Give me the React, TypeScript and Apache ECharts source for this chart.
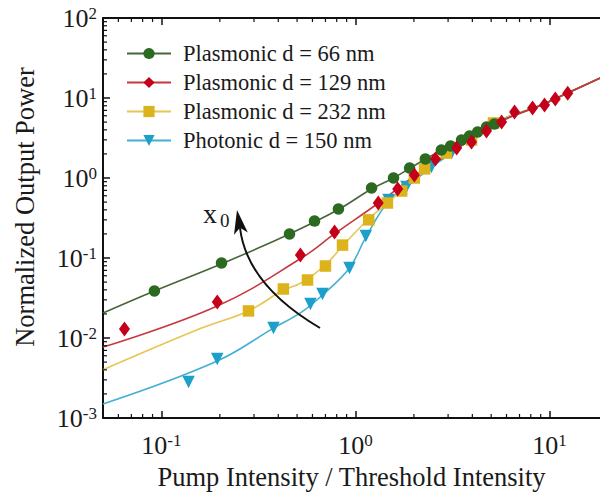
import React, { useEffect, useRef } from "react";
import * as echarts from "echarts";

const FONT = "'Liberation Serif', 'Times New Roman', serif";
const TEXT = "#1a1a1a";

const X_MIN = 0.05;
const X_MAX = 20;
const Y_MIN = 0.001;
const Y_MAX = 100;

const SERIES_NAMES = [
  "Plasmonic d = 66 nm",
  "Plasmonic d = 129 nm",
  "Plasmonic d = 232 nm",
  "Photonic d = 150 nm",
];

// measured points
const pts66 = [
  [0.092, 0.0387], [0.204, 0.0866], [0.457, 0.2], [0.615, 0.29], [0.817, 0.41],
  [1.21, 0.75], [1.57, 1.0], [1.9, 1.33], [2.29, 1.73], [2.77, 2.24], [3.09, 2.51],
  [3.52, 2.99], [3.87, 3.35], [4.26, 3.76], [4.73, 4.34], [5.2, 4.73],
];
const pts129 = [
  [0.0645, 0.01296], [0.194, 0.0282], [0.52, 0.109], [0.78, 0.211], [1.31, 0.487],
  [1.65, 0.729], [2.01, 1.09], [2.58, 1.73], [3.32, 2.37], [3.96, 2.82], [4.73, 3.87],
  [5.66, 5.01], [6.6, 6.68], [8.17, 7.5], [9.42, 8.18], [10.7, 9.71], [12.4, 11.5],
];
const pts232 = [
  [0.281, 0.0218], [0.425, 0.041], [0.566, 0.0531], [0.7, 0.0794], [0.857, 0.145],
  [1.17, 0.3], [1.46, 0.487], [1.73, 0.688], [2.01, 1.0], [2.27, 1.3], [2.94, 2.05],
  [3.96, 2.99], [5.14, 4.87],
];
const pts150 = [
  [0.138, 0.00282], [0.194, 0.00546], [0.378, 0.0133], [0.586, 0.0266], [0.676, 0.0355],
  [0.931, 0.075], [1.13, 0.188], [1.48, 0.53], [1.83, 0.77], [2.46, 1.37], [3.13, 2.05],
];

// fitted curves
const fit66 = [
  [0.05, 0.0205], [0.092, 0.0387], [0.209, 0.0866], [0.457, 0.2], [0.808, 0.398],
  [1.209, 0.729], [1.57, 1.0], [2.296, 1.73], [3.126, 2.59], [5.2, 4.8],
  [9.09, 8.18], [12.38, 11.55], [20, 19.7],
];
const fit129 = [
  [0.05, 0.0077], [0.194, 0.0251], [0.527, 0.1], [0.779, 0.2], [1.314, 0.487],
  [2.014, 1.06], [3.317, 2.3], [5.656, 5.16], [9.09, 8.18], [12.38, 11.55], [20, 19.7],
];
const fit232 = [
  [0.05, 0.004], [0.161, 0.0133], [0.281, 0.0218], [0.425, 0.0398], [0.527, 0.049],
  [0.7, 0.0818], [0.857, 0.141], [1.167, 0.307], [1.462, 0.487], [2.014, 1.0],
  [2.944, 2.05], [5.145, 4.87], [9.09, 8.18], [12.38, 11.55], [20, 19.7],
];
const fit150 = [
  [0.05, 0.0015], [0.194, 0.00516], [0.378, 0.0133], [0.527, 0.0211], [0.676, 0.0345],
  [0.931, 0.075], [1.126, 0.178], [1.479, 0.516], [1.832, 0.772], [2.465, 1.37],
  [3.126, 2.05], [5.145, 4.87], [9.09, 8.18], [12.38, 11.55], [20, 19.7],
];

const MARKER_COLORS = ["#2b6a20", "#c5001b", "#ddb31c", "#1c9fc8"];
const LINE_COLORS = ["#46663a", "#c8373d", "#e6c553", "#41b0d3"];
const SYMBOLS = ["circle", "diamond", "rect", "triangle"];
const SYMBOL_SIZES: any[] = [11.5, [11, 15], 11.5, 12.5];
const SYMBOL_ROTATE = [0, 0, 0, 180];

const MULTS = [2, 3, 4, 5, 6, 7, 8, 9];
const X_DECADES = [0.01, 0.1, 1, 10];
const Y_DECADES = [0.001, 0.01, 0.1, 1, 10];

const fmtPow = (v: number) => {
  const e = Math.log10(v);
  const r = Math.round(e);
  if (Math.abs(e - r) > 1e-6) return "";
  return `{b|10}{s|${r}}`;
};

const rich = {
  b: { fontSize: 26, fontFamily: FONT, color: TEXT, lineHeight: 26, verticalAlign: "bottom" },
  s: { fontSize: 17, fontFamily: FONT, color: TEXT, lineHeight: 13, verticalAlign: "top" },
};

export default function App() {
  const ref = useRef<HTMLDivElement>(null);
  useEffect(() => {
    if (!ref.current) return;
    const chart = echarts.init(ref.current, null, { renderer: "svg" });

    const xMinor: number[][] = [];
    X_DECADES.forEach((d) => MULTS.forEach((m) => {
      const v = d * m;
      if (v > X_MIN + 1e-9 && v < X_MAX - 1e-9) xMinor.push([v, Y_MIN]);
    }));
    const yMinor: number[][] = [];
    Y_DECADES.forEach((d) => MULTS.forEach((m) => {
      const v = d * m;
      if (v > Y_MIN && v < Y_MAX) yMinor.push([X_MIN, v]);
    }));

    const tickStyle = { stroke: "#111", lineWidth: 1.2 };

    const pts = [pts66, pts129, pts232, pts150];
    const fits = [fit66, fit129, fit232, fit150];
    const order = [3, 2, 0, 1];

    const lineSeries = order.map((i) => ({
      type: "line",
      name: SERIES_NAMES[i],
      data: fits[i],
      smooth: 0.4,
      showSymbol: false,
      symbol: SYMBOLS[i],
      symbolSize: SYMBOL_SIZES[i],
      symbolRotate: SYMBOL_ROTATE[i],
      lineStyle: { color: LINE_COLORS[i], width: 1.6 },
      itemStyle: { color: MARKER_COLORS[i] },
      z: 2,
      silent: true,
    }));
    const scatterSeries = order.map((i) => ({
      type: "scatter",
      name: "pts" + i,
      data: pts[i],
      symbol: SYMBOLS[i],
      symbolSize: SYMBOL_SIZES[i],
      symbolRotate: SYMBOL_ROTATE[i],
      itemStyle: { color: MARKER_COLORS[i], opacity: 1 },
      z: 3,
      silent: true,
    }));

    chart.setOption({
      animation: false,
      backgroundColor: "#ffffff",
      grid: { left: 103, right: 2, top: 18, bottom: 80 },
      legend: {
        orient: "vertical",
        left: 126,
        top: 42,
        padding: 0,
        itemWidth: 44,
        itemHeight: 14,
        itemGap: 6,
        data: [...SERIES_NAMES],
        textStyle: { fontSize: 22.5, fontFamily: FONT, color: TEXT, lineHeight: 22, padding: [0, 0, 0, 7] },
        selectedMode: false,
      },
      xAxis: [
        {
          type: "log",
          logBase: 10,
          min: X_MIN,
          max: X_MAX,
          position: "bottom",
          axisLine: { lineStyle: { color: "#111", width: 2 } },
          axisTick: { inside: true, length: 7, lineStyle: { color: "#111", width: 1.5 } },
          axisLabel: { margin: 14, formatter: fmtPow, rich, showMinLabel: false, showMaxLabel: false },
          splitLine: { show: false },
          name: "Pump Intensity / Threshold Intensity",
          nameLocation: "middle",
          nameGap: 45,
          nameTextStyle: { fontSize: 26.5, fontFamily: FONT, color: TEXT, padding: [0, 8, 0, 0] },
        },
        {
          type: "log",
          logBase: 10,
          min: X_MIN,
          max: X_MAX,
          position: "top",
          axisLine: { lineStyle: { color: "#111", width: 2 } },
          axisTick: { inside: true, length: 7, lineStyle: { color: "#111", width: 1.5 } },
          axisLabel: { show: false },
          splitLine: { show: false },
        },
      ],
      yAxis: {
        type: "log",
        logBase: 10,
        min: Y_MIN,
        max: Y_MAX,
        axisLine: { show: true, lineStyle: { color: "#111", width: 2 } },
        axisTick: { show: true, inside: true, length: 7, lineStyle: { color: "#111", width: 1.5 } },
        axisLabel: { margin: 6, formatter: fmtPow, rich },
        splitLine: { show: false },
        name: "Normalized Output Power",
        nameLocation: "middle",
        nameGap: 65,
        nameTextStyle: { fontSize: 26.5, fontFamily: FONT, color: TEXT, padding: [0, 0, 0, 22] },
      },
      series: [
        ...lineSeries,
        ...scatterSeries,
        {
          type: "custom",
          name: "xminor",
          data: xMinor,
          silent: true,
          clip: false,
          z: 5,
          renderItem: (_p: any, api: any) => {
            const v = api.value(0);
            const b = api.coord([v, Y_MIN]);
            const t = api.coord([v, Y_MAX]);
            return {
              type: "group",
              children: [
                { type: "line", shape: { x1: b[0], y1: b[1], x2: b[0], y2: b[1] - 4 }, style: tickStyle },
                { type: "line", shape: { x1: t[0], y1: t[1], x2: t[0], y2: t[1] + 4 }, style: tickStyle },
              ],
            };
          },
        },
        {
          type: "custom",
          name: "yminor",
          data: yMinor,
          silent: true,
          clip: false,
          z: 5,
          renderItem: (_p: any, api: any) => {
            const v = api.value(1);
            const l = api.coord([X_MIN, v]);
            return {
              type: "line",
              shape: { x1: l[0], y1: l[1], x2: l[0] + 4, y2: l[1] },
              style: tickStyle,
            };
          },
        },
      ],
      graphic: [
        {
          type: "bezierCurve",
          shape: { x1: 320, y1: 328, x2: 240, y2: 228, cpx1: 247, cpy1: 285 },
          style: { stroke: "#111", lineWidth: 2, fill: null },
          z: 10,
          silent: true,
        },
        {
          type: "polygon",
          shape: { points: [[237, 210], [247.8, 232.6], [240, 227.8], [234, 234.8]] },
          style: { fill: "#111" },
          z: 10,
          silent: true,
        },
        {
          type: "text",
          left: 203,
          top: 199,
          style: { text: "x", fontSize: 28, fontFamily: FONT, fill: TEXT },
          z: 10,
          silent: true,
        },
        {
          type: "text",
          left: 220,
          top: 211,
          style: { text: "0", fontSize: 19, fontFamily: FONT, fill: TEXT },
          z: 10,
          silent: true,
        },
      ],
    });
    return () => chart.dispose();
  }, []);

  return (
    <div style={{ position: "fixed", left: 0, top: 0, width: 600, height: 498, overflow: "hidden", background: "#fff" }}>
      <div ref={ref} style={{ width: 610, height: 498 }} />
    </div>
  );
}
